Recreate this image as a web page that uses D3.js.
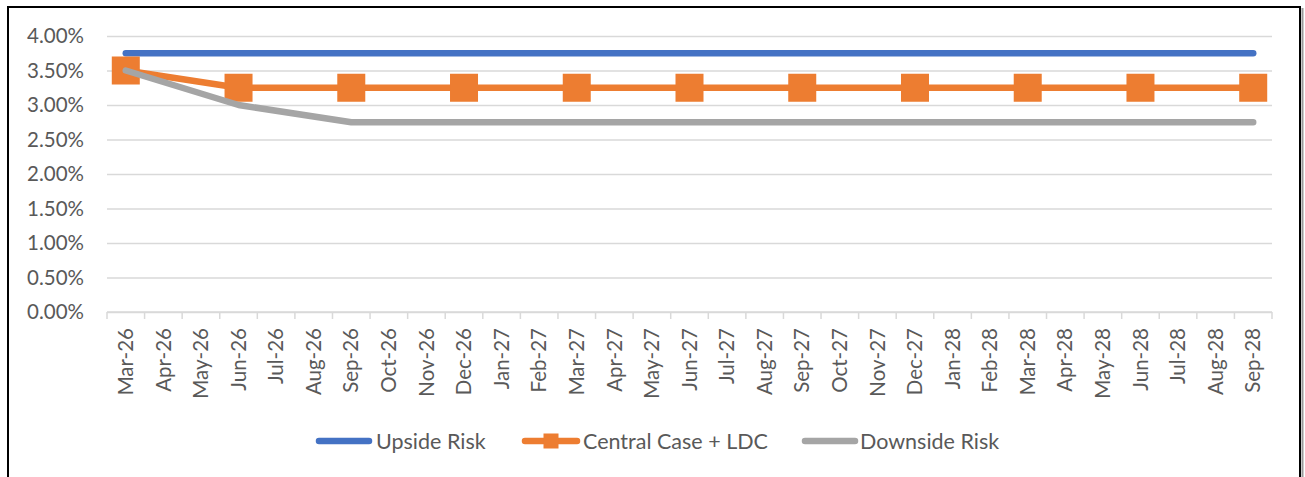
<!DOCTYPE html>
<html>
<head>
<meta charset="utf-8">
<script src="https://cdn.jsdelivr.net/npm/d3@7"></script>
<style>
  html, body { margin: 0; padding: 0; background: #fff; }
  svg { display: block; }
  text { font-family: Lato, "Liberation Sans", sans-serif; fill: #595959; }
</style>
</head>
<body>
<svg id="chart" width="1305" height="477"></svg>
<script>
// Monthly category axis
const months = [
  "Mar-26","Apr-26","May-26","Jun-26","Jul-26","Aug-26","Sep-26","Oct-26","Nov-26",
  "Dec-26","Jan-27","Feb-27","Mar-27","Apr-27","May-27","Jun-27","Jul-27","Aug-27",
  "Sep-27","Oct-27","Nov-27","Dec-27","Jan-28","Feb-28","Mar-28","Apr-28","May-28",
  "Jun-28","Jul-28","Aug-28","Sep-28"
];

// Quarterly observations (points are joined across the empty months)
const quarters = ["Mar-26","Jun-26","Sep-26","Dec-26","Mar-27","Jun-27","Sep-27","Dec-27","Mar-28","Jun-28","Sep-28"];
const upsideRisk   = [0.0375,0.0375,0.0375,0.0375,0.0375,0.0375,0.0375,0.0375,0.0375,0.0375,0.0375];
const centralCase  = [0.0350,0.0325,0.0325,0.0325,0.0325,0.0325,0.0325,0.0325,0.0325,0.0325,0.0325];
const downsideRisk = [0.0350,0.0300,0.0275,0.0275,0.0275,0.0275,0.0275,0.0275,0.0275,0.0275,0.0275];

const yTicks = [0,0.005,0.01,0.015,0.02,0.025,0.03,0.035,0.04];
const seriesNames = ["Upside Risk","Central Case + LDC","Downside Risk"];

const svg = d3.select("#chart");
const W = 1305, H = 477;
const plot = { left: 107, right: 1272, top: 36, bottom: 312 };

const x = d3.scaleBand().domain(months).range([plot.left, plot.right]).padding(0);
const y = d3.scaleLinear().domain([0, 0.04]).range([plot.bottom, plot.top]);
const cx = m => x(m) + x.bandwidth() / 2;

const series = [
  { name: seriesNames[0], values: upsideRisk,   color: "#4472C4", marker: false },
  { name: seriesNames[1], values: centralCase,  color: "#ED7D31", marker: true  },
  { name: seriesNames[2], values: downsideRisk, color: "#A5A5A5", marker: false }
];

// Frame
svg.append("rect").attr("x", 0).attr("y", 0).attr("width", W).attr("height", H).attr("fill", "#fff");
svg.append("line").attr("x1", 1302.5).attr("x2", 1302.5).attr("y1", 8).attr("y2", H)
  .attr("stroke", "#9a9a9a").attr("stroke-width", 2);
svg.append("path")
  .attr("d", `M8,${H + 5} L8,7 L1300,7 L1300,${H + 5}`)
  .attr("fill", "none").attr("stroke", "#000").attr("stroke-width", 2);

// Horizontal gridlines and y labels
const yAxis = d3.axisLeft(y).tickValues(yTicks).tickFormat(d3.format(".2%"))
  .tickSize(-(plot.right - plot.left)).tickPadding(23);
const gy = svg.append("g").attr("transform", `translate(${plot.left},0)`).call(yAxis);
gy.select(".domain").remove();
gy.selectAll(".tick line").attr("stroke", "#d9d9d9").attr("stroke-width", 1.5);
gy.selectAll(".tick text").attr("font-size", 20.5).style("font-family", "Lato, 'Liberation Sans', sans-serif").attr("fill", "#595959");

// Category axis with ticks on band boundaries
const axisG = svg.append("g");
axisG.append("line").attr("x1", plot.left).attr("x2", plot.right)
  .attr("y1", plot.bottom).attr("y2", plot.bottom)
  .attr("stroke", "#d9d9d9").attr("stroke-width", 1.5);
axisG.selectAll("line.tk").data(months.concat(["__end"])).join("line")
  .attr("class", "tk")
  .attr("x1", (d, i) => i < months.length ? x(d) : plot.right)
  .attr("x2", (d, i) => i < months.length ? x(d) : plot.right)
  .attr("y1", plot.bottom).attr("y2", plot.bottom + 7)
  .attr("stroke", "#d9d9d9").attr("stroke-width", 1.5);
axisG.selectAll("text").data(months).join("text")
  .attr("transform", d => `translate(${cx(d)},${plot.bottom + 16}) rotate(-90)`)
  .attr("text-anchor", "end").attr("dy", "0.35em")
  .attr("font-size", 20.5)
  .text(d => d);

// Lines
const line = d3.line().x(d => cx(d.m)).y(d => y(d.v));
series.forEach(s => {
  const pts = quarters.map((m, i) => ({ m, v: s.values[i] }));
  const g = svg.append("g");
  g.append("path").datum(pts).attr("d", line)
    .attr("fill", "none").attr("stroke", s.color).attr("stroke-width", 6.5)
    .attr("stroke-linecap", "round").attr("stroke-linejoin", "round");
  if (s.marker) {
    const sz = 28;
    g.selectAll("rect").data(pts).join("rect")
      .attr("x", d => cx(d.m) - sz / 2).attr("y", d => y(d.v) - sz / 2)
      .attr("width", sz).attr("height", sz).attr("fill", s.color);
  }
});

// Legend
const legendY = 441;
const legendItems = [
  { s: series[0], x0: 316, x1: 372, tx: 376 },
  { s: series[1], x0: 522, x1: 580, tx: 583 },
  { s: series[2], x0: 802, x1: 858, tx: 860 }
];
const lg = svg.append("g");
legendItems.forEach(it => {
  lg.append("line").attr("x1", it.x0 + 3).attr("x2", it.x1 - 3)
    .attr("y1", legendY).attr("y2", legendY)
    .attr("stroke", it.s.color).attr("stroke-width", 6.5).attr("stroke-linecap", "round");
  if (it.s.marker) {
    const sz = 15, mx = (it.x0 + it.x1) / 2;
    lg.append("rect").attr("x", mx - sz / 2).attr("y", legendY - sz / 2)
      .attr("width", sz).attr("height", sz).attr("fill", it.s.color);
  }
  lg.append("text").attr("x", it.tx).attr("y", legendY).attr("dy", "0.35em")
    .attr("font-size", 21.5).text(it.s.name);
});
</script>
</body>
</html>
